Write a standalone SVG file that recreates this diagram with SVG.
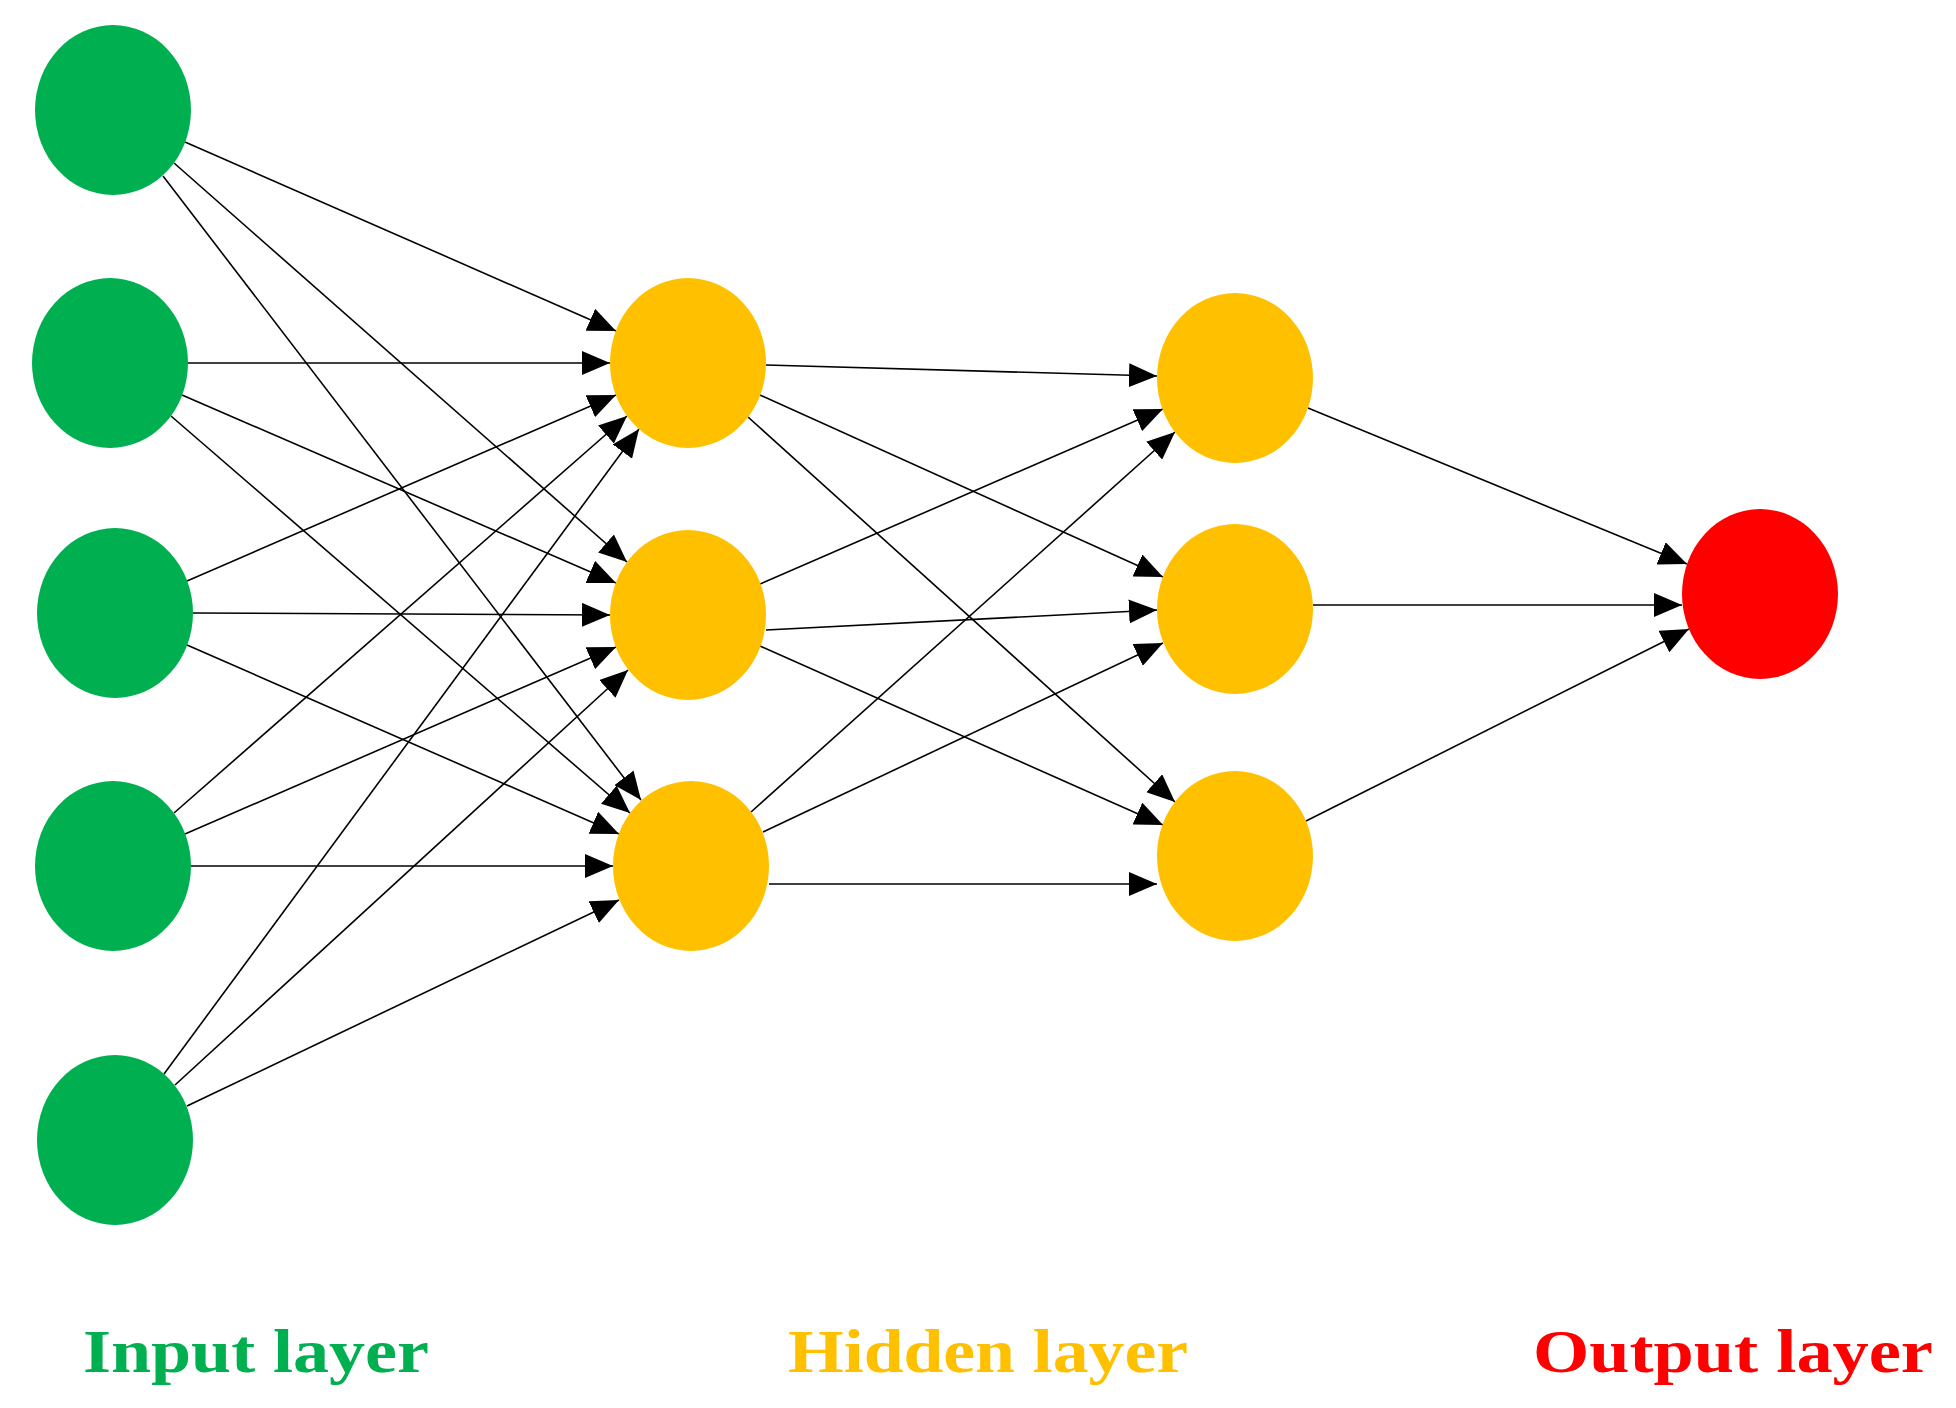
<svg xmlns="http://www.w3.org/2000/svg" width="1956" height="1408" viewBox="0 0 1956 1408">
<style>
.in{fill:#00B050}.hid{fill:#FFC000}.out{fill:#FF0000}
#edges line{stroke:#000;stroke-width:1.6;marker-end:url(#ah)}
.lbl{font-family:"Liberation Serif",serif;font-weight:bold;font-size:62px;text-anchor:middle}
</style>
<defs><marker id="ah" markerUnits="userSpaceOnUse" markerWidth="30" markerHeight="24" refX="28" refY="12" orient="auto"><path d="M0,0 L28,12 L0,24 z" fill="#000"/></marker></defs>
<rect width="1956" height="1408" fill="#fff"/>
<g id="edges">
<line x1="185" y1="142" x2="616" y2="331"/>
<line x1="174" y1="163" x2="627" y2="562"/>
<line x1="163" y1="176" x2="641" y2="800"/>
<line x1="188" y1="363" x2="610" y2="363"/>
<line x1="182" y1="395" x2="616" y2="583"/>
<line x1="171" y1="416" x2="630" y2="813"/>
<line x1="187" y1="581" x2="616" y2="395"/>
<line x1="193" y1="613" x2="610" y2="615"/>
<line x1="187" y1="645" x2="619" y2="834"/>
<line x1="174" y1="813" x2="627" y2="416"/>
<line x1="185" y1="834" x2="616" y2="647"/>
<line x1="191" y1="866" x2="613" y2="866"/>
<line x1="164" y1="1074" x2="639" y2="429"/>
<line x1="175" y1="1085" x2="628" y2="670"/>
<line x1="187" y1="1106" x2="619" y2="900"/>
<line x1="766" y1="365" x2="1157" y2="376"/>
<line x1="760" y1="395" x2="1163" y2="577"/>
<line x1="748" y1="417" x2="1175" y2="802"/>
<line x1="760" y1="584" x2="1163" y2="409"/>
<line x1="766" y1="630" x2="1157" y2="610"/>
<line x1="760" y1="646" x2="1163" y2="825"/>
<line x1="751" y1="812" x2="1175" y2="432"/>
<line x1="763" y1="832" x2="1163" y2="643"/>
<line x1="769" y1="884" x2="1157" y2="884"/>
<line x1="1308" y1="408" x2="1687" y2="564"/>
<line x1="1313" y1="605" x2="1682" y2="605"/>
<line x1="1306" y1="821" x2="1689" y2="629"/>
</g>
<g id="i1"><ellipse class="in" cx="113" cy="110" rx="78" ry="85"/></g>
<g id="i2"><ellipse class="in" cx="110" cy="363" rx="78" ry="85"/></g>
<g id="i3"><ellipse class="in" cx="115" cy="613" rx="78" ry="85"/></g>
<g id="i4"><ellipse class="in" cx="113" cy="866" rx="78" ry="85"/></g>
<g id="i5"><ellipse class="in" cx="115" cy="1140" rx="78" ry="85"/></g>
<g id="h1a"><ellipse class="hid" cx="688" cy="363" rx="78" ry="85"/></g>
<g id="h1b"><ellipse class="hid" cx="688" cy="615" rx="78" ry="85"/></g>
<g id="h1c"><ellipse class="hid" cx="691" cy="866" rx="78" ry="85"/></g>
<g id="h2a"><ellipse class="hid" cx="1235" cy="378" rx="78" ry="85"/></g>
<g id="h2b"><ellipse class="hid" cx="1235" cy="609" rx="78" ry="85"/></g>
<g id="h2c"><ellipse class="hid" cx="1235" cy="856" rx="78" ry="85"/></g>
<g id="o1"><ellipse class="out" cx="1760" cy="594" rx="78" ry="85"/></g>
<text class="lbl" x="256" y="1372" fill="#00B050" textLength="346" lengthAdjust="spacingAndGlyphs">Input layer</text>
<text class="lbl" x="988" y="1372" fill="#FFC000" textLength="400" lengthAdjust="spacingAndGlyphs">Hidden layer</text>
<text class="lbl" x="1733" y="1372" fill="#FF0000" textLength="400" lengthAdjust="spacingAndGlyphs">Output layer</text>
</svg>
